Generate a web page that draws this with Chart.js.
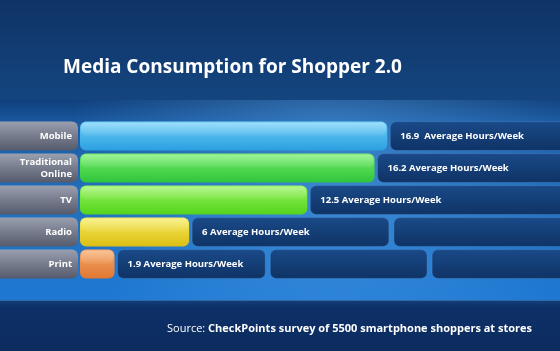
<!DOCTYPE html>
<html>
<head>
<meta charset="utf-8">
<script src="https://cdn.jsdelivr.net/npm/chart.js@4/dist/chart.umd.min.js"></script>
<style>
  html, body { margin: 0; padding: 0; background: #0e3468; }
  #wrap { width: 560px; height: 351px; position: relative; }
</style>
</head>
<body>
<div id="wrap"><canvas id="mediaChart"></canvas></div>
<script>
const categories = ['Mobile', 'Traditional\nOnline', 'TV', 'Radio', 'Print'];
const hours = [16.9, 16.2, 12.5, 6, 1.9];
const valueLabels = ['16.9  Average Hours/Week', '16.2 Average Hours/Week', '12.5 Average Hours/Week', '6 Average Hours/Week', '1.9 Average Hours/Week'];
// where the dark track behind each row is split into pieces
const trackBreaks = [[], [], [], [17.1], [10.3, 19.2]];
const barColors = [
  ['#6fd0f7', '#2a9ee0'],
  ['#74ee66', '#2ec43c'],
  ['#95f35a', '#52d41c'],
  ['#f7ec5a', '#dcbd12'],
  ['#f7a868', '#e07632']
];

const FONT = '"Open Sans", "Noto Sans", sans-serif';

function roundRect(c, x, y, w, h, r) {
  c.beginPath();
  c.roundRect(x, y, w, h, r);
}

const backdrop = {
  id: 'backdrop',
  beforeDraw(chart) {
    const c = chart.ctx;
    const W = chart.width;
    c.save();
    // top navy
    let g = c.createLinearGradient(0, 0, 0, 100);
    g.addColorStop(0, '#0f3366');
    g.addColorStop(1, '#14457f');
    c.fillStyle = g;
    c.fillRect(0, 0, W, 100);
    // bright blue band
    g = c.createLinearGradient(0, 100, 0, 300);
    g.addColorStop(0, '#10407c');
    g.addColorStop(0.12, '#1a5aa3');
    g.addColorStop(0.5, '#2170bd');
    g.addColorStop(1, '#1f78d2');
    c.fillStyle = g;
    c.fillRect(0, 100, W, 200);
    const rg = c.createRadialGradient(330, 150, 10, 330, 150, 260);
    rg.addColorStop(0, 'rgba(110,190,255,0.35)');
    rg.addColorStop(1, 'rgba(110,190,255,0)');
    c.fillStyle = rg;
    c.fillRect(0, 100, W, 200);
    // bottom navy
    g = c.createLinearGradient(0, 300, 0, 351);
    g.addColorStop(0, '#133f7a');
    g.addColorStop(0.15, '#0d3068');
    g.addColorStop(1, '#0c2c5e');
    c.fillStyle = g;
    c.fillRect(0, 300, W, 51);
    c.fillStyle = 'rgba(120,180,240,0.35)';
    c.fillRect(0, 300, W, 1);
    // title
    c.fillStyle = '#ffffff';
    c.font = 'bold 19px ' + FONT;
    c.textBaseline = 'alphabetic';
    c.fillText('Media Consumption for Shopper 2.0', 63, 73);
    // source line
    c.font = '11px ' + FONT;
    const s1 = 'Source: ';
    const w1 = c.measureText(s1).width;
    c.fillText(s1, 167, 332);
    c.font = 'bold 11px ' + FONT;
    c.fillText('CheckPoints survey of 5500 smartphone shoppers at stores', 167 + w1, 332);
    c.restore();
  },
  beforeDatasetsDraw(chart) {
    const c = chart.ctx;
    const x = chart.scales.x, y = chart.scales.y;
    const meta = chart.getDatasetMeta(0);
    c.save();
    meta.data.forEach((bar, i) => {
      const top = bar.y - bar.height / 2, h = bar.height;
      // grey category box on the left
      let g = c.createLinearGradient(0, top, 0, top + h);
      g.addColorStop(0, '#9aa0ae');
      g.addColorStop(0.5, '#767c8c');
      g.addColorStop(1, '#555b6c');
      c.fillStyle = g;
      roundRect(c, -8, top, 86, h, 6);
      c.fill();
      c.fillStyle = '#ffffff';
      c.font = 'bold 9.5px ' + FONT;
      c.textAlign = 'right';
      c.textBaseline = 'middle';
      const lines = categories[i].split('\n');
      lines.forEach((ln, k) => {
        c.fillText(ln, 72, bar.y + (k - (lines.length - 1) / 2) * 12);
      });
      // dark track pieces after the bar
      const edges = [hours[i]].concat(trackBreaks[i]);
      for (let k = 0; k < edges.length; k++) {
        const x0 = x.getPixelForValue(edges[k]) + 3;
        const x1 = k + 1 < edges.length ? x.getPixelForValue(edges[k + 1]) - 2 : chart.width + 10;
        g = c.createLinearGradient(0, top, 0, top + h);
        g.addColorStop(0, '#1a4a88');
        g.addColorStop(1, '#0f3366');
        c.fillStyle = g;
        roundRect(c, x0, top, x1 - x0, h, 6);
        c.fill();
        c.strokeStyle = 'rgba(90,150,220,0.35)';
        c.lineWidth = 1;
        c.stroke();
      }
    });
    c.restore();
  },
  afterDatasetsDraw(chart) {
    const c = chart.ctx;
    const meta = chart.getDatasetMeta(0);
    c.save();
    meta.data.forEach((bar, i) => {
      const top = bar.y - bar.height / 2;
      // gloss on the bar
      const g = c.createLinearGradient(0, top, 0, top + bar.height * 0.5);
      g.addColorStop(0, 'rgba(255,255,255,0.35)');
      g.addColorStop(1, 'rgba(255,255,255,0.05)');
      c.fillStyle = g;
      roundRect(c, bar.base + 1, top + 1, bar.x - bar.base - 2, bar.height * 0.45, 5);
      c.fill();
      c.fillStyle = '#ffffff';
      c.font = 'bold 9.5px ' + FONT;
      c.textAlign = 'left';
      c.textBaseline = 'middle';
      c.fillText(valueLabels[i], bar.x + 13, bar.y);
    });
    c.restore();
  }
};

function barFill(context) {
  const i = context.dataIndex;
  const chart = context.chart;
  const cols = barColors[i];
  if (!chart.chartArea || !chart.scales.y) return cols[1];
  const yc = chart.scales.y.getPixelForValue(i);
  const g = chart.ctx.createLinearGradient(0, yc - 15, 0, yc + 15);
  g.addColorStop(0, cols[0]);
  g.addColorStop(1, cols[1]);
  return g;
}

new Chart(document.getElementById('mediaChart'), {
  type: 'bar',
  data: {
    labels: categories,
    datasets: [{
      data: hours,
      backgroundColor: barFill,
      borderWidth: 0,
      borderRadius: 6,
      borderSkipped: false,
      barPercentage: 0.9,
      categoryPercentage: 1
    }]
  },
  options: {
    indexAxis: 'y',
    responsive: true,
    maintainAspectRatio: false,
    animation: false,
    layout: { padding: { left: 80, right: 0, top: 120, bottom: 71 } },
    plugins: { legend: { display: false }, tooltip: { enabled: false } },
    scales: {
      x: { min: 0, max: 26.4, display: false },
      y: { display: false }
    }
  },
  plugins: [backdrop]
});
</script>
</body>
</html>
